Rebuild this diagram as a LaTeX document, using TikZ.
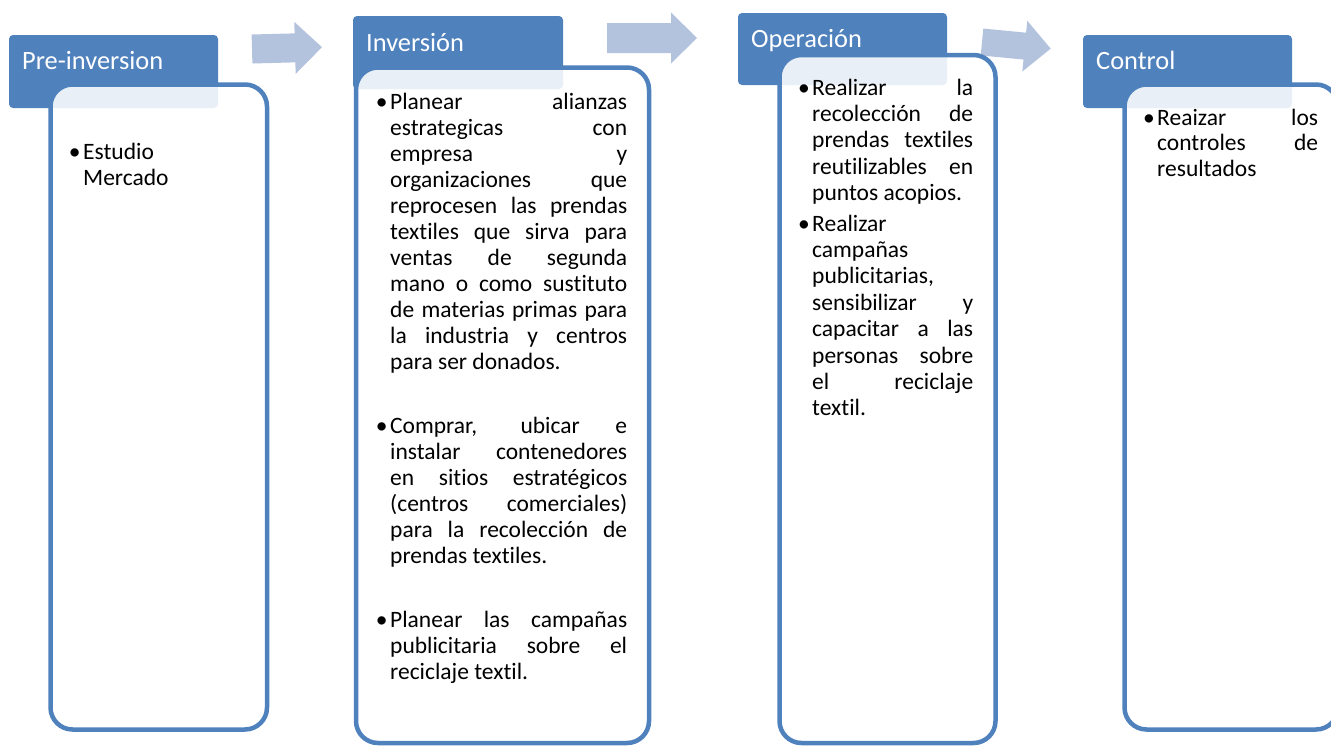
\documentclass[tikz,border=0pt]{standalone}
\usepackage{fontspec}
\setmainfont{Carlito}[RawFeature={-liga}]
\definecolor{hdr}{HTML}{4F81BD}
\definecolor{arr}{HTML}{B3C3DE}
\tolerance=10000
\hyphenpenalty=10000
\exhyphenpenalty=10000
\hbadness=10000
\newcommand\itembul{\leavevmode\llap{•\hspace{2.5pt}}}
\tikzset{
  hdrbox/.style={fill=hdr, rounded corners=4pt},
  bodybox/.style={draw=hdr, line width=4.5pt, fill=white, fill opacity=0.88, draw opacity=1, rounded corners=22pt},
  arrowshape/.style={fill=arr},
  hdrtext/.style={anchor=base west, inner sep=0pt, text=white, font=\fontsize{26.4}{30}\selectfont},
  bodytext/.style={anchor=base west, inner sep=0pt, align=justify, text=black, font=\fontsize{23.5}{26}\selectfont},
}
\begin{document}
\begin{tikzpicture}[x=1pt,y=-1pt]
\useasboundingbox (0,0) rectangle (1331,747);
\clip (0,0) rectangle (1331,747);
% block arrows
\begin{scope}[shift={(252,49)}, rotate=1.5]
  \fill[arrowshape] (0,-14.5) -- (43,-14.5) -- (43,-26) -- (70,0) -- (43,26) -- (43,14.5) -- (0,14.5) -- cycle;
\end{scope}
\begin{scope}[shift={(607,38)}]
  \fill[arrowshape] (0,-15) -- (64,-15) -- (64,-25.5) -- (90,0) -- (64,25.5) -- (64,15) -- (0,15) -- cycle;
\end{scope}
\begin{scope}[shift={(982,42)}, rotate=-5.5]
  \fill[arrowshape] (0,-13.5) -- (43,-13.5) -- (43,-25.5) -- (69,0) -- (43,25.5) -- (43,13.5) -- (0,13.5) -- cycle;
\end{scope}
% headers
\path[hdrbox] (9,35) rectangle (218,108) coordinate (h1);
\path[hdrbox] (353,16) rectangle (563,89) coordinate (h2);
\path[hdrbox] (738,13) rectangle (947,85) coordinate (h3);
\path[hdrbox] (1083,35) rectangle (1292,108) coordinate (h4);
% bodies
\path[bodybox] (50.5,84.5) rectangle (267,729.5) coordinate (b1);
\path[bodybox] (356,67.5) rectangle (649,743) coordinate (b2);
\path[bodybox] (779.5,55) rectangle (995.5,743) coordinate (b3);
\path[bodybox] (1124.5,84.5) rectangle (1338,729.5) coordinate (b4);
% header titles
\node[hdrtext] (t1) at (22,69) {Pre-inversion};
\node[hdrtext] (t2) at (366,51) {Inversión};
\node[hdrtext] (t3) at (751,47) {Operación};
\node[hdrtext] (t4) at (1096,69) {Control};
% body texts
\node[bodytext, text width=160pt] (x1) at (83,159) {\itembul Estudio\linebreak Mercado};
\node[bodytext, text width=237pt] (x2) at (390,109) {%
\itembul Planear alianzas\linebreak estrategicas con\linebreak empresa y\linebreak organizaciones que\linebreak reprocesen las prendas\linebreak textiles que sirva para\linebreak ventas de segunda\linebreak mano o como sustituto\linebreak de materias primas para\linebreak la industria y centros\linebreak para ser donados.\par\vspace{38pt}
\itembul Comprar, ubicar e\linebreak instalar contenedores\linebreak en sitios estratégicos\linebreak (centros comerciales)\linebreak para la recolección de\linebreak prendas textiles.\par\vspace{38pt}
\itembul Planear las campañas\linebreak publicitaria sobre el\linebreak reciclaje textil.};
\node[bodytext, text width=161pt, font=\fontsize{23.5}{26.4}\selectfont] (x3) at (812,95) {%
\itembul Realizar la\linebreak recolección de\linebreak prendas textiles\linebreak reutilizables en\linebreak puntos acopios.\par\vspace{4pt}
\itembul Realizar\linebreak campañas\linebreak publicitarias,\linebreak sensibilizar y\linebreak capacitar a las\linebreak personas sobre\linebreak el reciclaje\linebreak textil.};
\node[bodytext, text width=161pt, font=\fontsize{23.5}{25.5}\selectfont] (x4) at (1157,125) {%
\itembul Reaizar los\linebreak controles de\linebreak resultados};
\end{tikzpicture}
\end{document}
